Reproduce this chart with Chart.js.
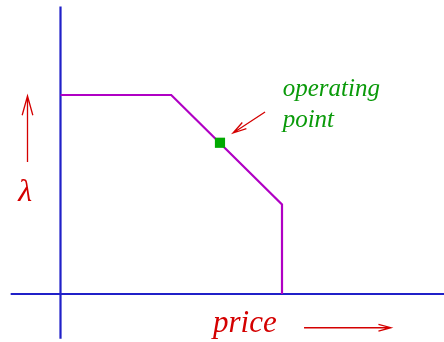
<!DOCTYPE html>
<html>
<head>
<meta charset="utf-8">
<script src="https://cdn.jsdelivr.net/npm/chart.js@4"></script>
<style>
  html, body { margin: 0; padding: 0; background: #fff; }
  #wrap { width: 444px; height: 342px; }
</style>
</head>
<body>
<div id="wrap"><canvas id="priceChart"></canvas></div>
<script>
// price / lambda curve (x = price, y = lambda)
const curvePrice = [0, 1, 2, 2];
const curveLambda = [2, 2, 0.9, 0];

// operating point
const opPrice = [1.44];
const opLambda = [1.52];

// axis extents
const xAxisPrice = [-0.45, 3.47];
const xAxisLambda = [0, 0];
const yAxisPrice = [0, 0];
const yAxisLambda = [2.89, -0.45];

// view range
const priceRange = [-0.5463, 3.4628];
const lambdaRange = [-0.4824, 2.9548];

const toPoints = (xs, ys) => xs.map((x, i) => ({ x: x, y: ys[i] }));

const RED = '#d40000';
const GREEN = '#0a9a0a';

const annotations = {
  arrows: [
    { from: [1.847, 1.829], to: [1.558, 1.618], head: 14 },
    { from: [-0.298, 1.327], to: [-0.298, 1.99], head: 20 },
    { from: [2.199, -0.339], to: [2.984, -0.339], head: 13 }
  ],
  labels: [
    { text: 'operating', at: [2.006, 1.99], font: 'italic 25px "Liberation Serif"', color: GREEN, align: 'left' },
    { text: 'point', at: [2.006, 1.678], font: 'italic 25px "Liberation Serif"', color: GREEN, align: 'left' },
    { text: 'λ', at: [-0.32, 0.935], font: 'italic 32px "Liberation Serif"', color: RED, align: 'center' },
    { text: 'price', at: [1.377, -0.382], font: 'italic 31px "Liberation Serif"', color: RED, align: 'left' }
  ]
};

const annotationPlugin = {
  id: 'notes',
  afterDatasetsDraw(chart) {
    const { ctx, scales: { x, y } } = chart;
    ctx.save();
    ctx.strokeStyle = RED;
    ctx.lineWidth = 1.3;
    annotations.arrows.forEach(a => {
      const x1 = x.getPixelForValue(a.from[0]), y1 = y.getPixelForValue(a.from[1]);
      const x2 = x.getPixelForValue(a.to[0]), y2 = y.getPixelForValue(a.to[1]);
      const ang = Math.atan2(y2 - y1, x2 - x1);
      const spread = 0.27;
      ctx.beginPath();
      ctx.moveTo(x1, y1);
      ctx.lineTo(x2, y2);
      ctx.moveTo(x2 - a.head * Math.cos(ang - spread), y2 - a.head * Math.sin(ang - spread));
      ctx.lineTo(x2, y2);
      ctx.lineTo(x2 - a.head * Math.cos(ang + spread), y2 - a.head * Math.sin(ang + spread));
      ctx.stroke();
    });
    ctx.textBaseline = 'alphabetic';
    annotations.labels.forEach(l => {
      ctx.font = l.font;
      ctx.fillStyle = l.color;
      ctx.textAlign = l.align;
      ctx.fillText(l.text, x.getPixelForValue(l.at[0]), y.getPixelForValue(l.at[1]));
    });
    ctx.restore();
  }
};

const lineSet = (data, color, order) => ({
  data: data,
  showLine: true,
  borderColor: color,
  borderWidth: 2.2,
  pointRadius: 0,
  fill: false,
  tension: 0,
  clip: false,
  order: order
});

new Chart(document.getElementById('priceChart'), {
  type: 'scatter',
  data: {
    datasets: [
      lineSet(toPoints(xAxisPrice, xAxisLambda), '#2020c8', 2),
      lineSet(toPoints(yAxisPrice, yAxisLambda), '#2020c8', 2),
      lineSet(toPoints(curvePrice, curveLambda), '#b000c4', 1),
      {
        data: toPoints(opPrice, opLambda),
        pointStyle: 'rect',
        pointRadius: 7.2,
        backgroundColor: '#00aa00',
        borderColor: '#00aa00',
        borderWidth: 0,
        clip: false,
        order: 0
      }
    ]
  },
  options: {
    responsive: true,
    maintainAspectRatio: false,
    animation: false,
    layout: { padding: 0, autoPadding: false },
    scales: {
      x: { type: 'linear', display: false, min: priceRange[0], max: priceRange[1] },
      y: { type: 'linear', display: false, min: lambdaRange[0], max: lambdaRange[1] }
    },
    plugins: {
      legend: { display: false },
      tooltip: { enabled: false }
    }
  },
  plugins: [annotationPlugin]
});
</script>
</body>
</html>
